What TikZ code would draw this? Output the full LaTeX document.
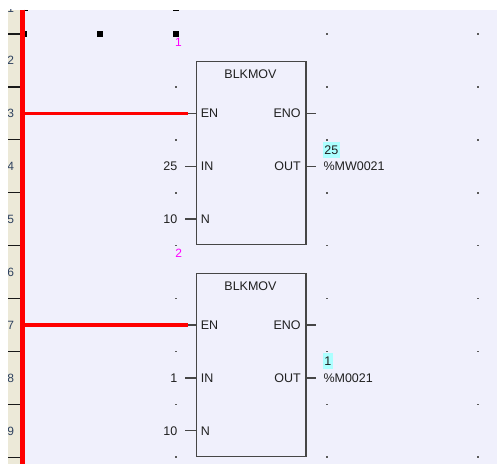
\documentclass[tikz,border=0pt]{standalone}
\usepackage{fontspec}
\setmainfont{Liberation Sans}
\definecolor{bglav}{RGB}{240,240,252}
\definecolor{beige}{RGB}{236,233,216}
\definecolor{boxgray}{RGB}{70,70,70}
\definecolor{txt}{RGB}{32,32,32}
\definecolor{rownum}{RGB}{45,65,95}
\definecolor{hl}{RGB}{172,255,255}
\definecolor{dotgray}{RGB}{90,90,90}
\definecolor{magnumc}{RGB}{255,0,255}
\tikzset{
  lbl/.style={inner sep=0pt, text=txt, font=\fontsize{12.5}{14}\selectfont, text height=8.95pt, text depth=0pt},
  blk/.style={draw=boxgray, line width=1.4pt, fill=bglav, minimum width=109.6pt, minimum height=183pt, inner sep=0pt, anchor=north west},
  stub/.style={draw=boxgray, line width=1.4pt},
  rung/.style={draw=red, line width=3.6pt},
  rail/.style={draw=red, line width=4.6pt},
  hlbox/.style={lbl, fill=hl, inner xsep=1.9pt, minimum height=15.7pt, anchor=west},
  rnum/.style={lbl, text=rownum, font=\fontsize{12}{14}\selectfont, anchor=east},
  magnum/.style={lbl, text=magnumc, font=\fontsize{12}{14}\selectfont},
  handle/.style={fill=black},
  gdot/.style={fill=dotgray}
}
\begin{document}
\begin{tikzpicture}[x=1pt,y=-1pt]
\useasboundingbox (0,0) rectangle (503,464);
\fill[white] (0,0) rectangle (503,464);
\fill[bglav] (8.3,9.5) rectangle (497,464);
\fill[beige] (8.3,9.5) rectangle (20.5,464);
% row ticks and numbers
\foreach \k in {0,...,8} {
  \draw[line width=1.3pt, black!90] (8.3,{34+52.9*\k}) -- (20.5,{34+52.9*\k});
}
\begin{scope}
\clip (8.3,9.5) rectangle (20.5,464);
\foreach \k in {1,...,9} {
  \node[rnum] (r\k) at (14.3,{7.55+52.9*(\k-1)}) {\k};
}
\end{scope}
% grid dots
\foreach \x in {176,326.7,477.7} {
  \foreach \k in {0,...,8} {
    \fill[gdot] (\x-0.8,{34+52.9*\k-0.8}) rectangle ++(1.6,1.6);
  }
}
% selection handles
\fill[handle] (21,31) rectangle (27,37);
\fill[handle] (97,31) rectangle (103,37);
\fill[handle] (173,31) rectangle (179,37);
\fill[handle] (22,9.5) rectangle (28,11);
\fill[handle] (173,9.5) rectangle (179,11);
% magenta rung numbers
\node[magnum] (m1) at (178.4,41.7) {1};
\node[magnum] (m2) at (178.8,253.3) {2};

% ===== Block 1 =====
\node[blk] (b1) at (195.7,61) {};
\node[lbl] (b1t) at (250.5,74) {BLKMOV};
\coordinate (b1en) at (195.7,113.35);
\coordinate (b1in) at (195.7,166.25);
\coordinate (b1n) at (195.7,219.15);
\coordinate (b1eno) at (305.3,113.35);
\coordinate (b1out) at (305.3,166.25);
\coordinate (b1enx) at (188.3,113.35);
\coordinate (b1inx) at (185,166.25);
\coordinate (b1nx) at (185,219.15);
\coordinate (b1enox) at (315.7,113.35);
\coordinate (b1outx) at (315.7,166.25);
\node[lbl,anchor=west] (b1enl) at (200.7,113.35) {EN};
\node[lbl,anchor=west] (b1inl) at (200.7,166.25) {IN};
\node[lbl,anchor=west] (b1nl) at (200.7,219.15) {N};
\node[lbl,anchor=east] (b1enol) at (300.9,113.35) {ENO};
\node[lbl,anchor=east] (b1outl) at (300.9,166.25) {OUT};
\node[lbl,anchor=east] (v1in) at (177.5,166.25) {25};
\node[lbl,anchor=east] (v1n) at (177.5,219.15) {10};
\node[hlbox] (h1) at (322.3,149.85) {25};
\node[lbl,anchor=west] (o1) at (323.3,166.25) {\%MW0021};
\draw[stub] (b1en) -- (b1enx);
\draw[stub] (b1in) -- (b1inx);
\draw[stub] (b1n) -- (b1nx);
\draw[stub] (b1eno) -- (b1enox);
\draw[stub] (b1out) -- (b1outx);

% ===== Block 2 =====
\node[blk] (b2) at (195.7,272.6) {};
\node[lbl] (b2t) at (250.5,285.6) {BLKMOV};
\coordinate (b2en) at (195.7,324.95);
\coordinate (b2in) at (195.7,377.85);
\coordinate (b2n) at (195.7,430.75);
\coordinate (b2eno) at (305.3,324.95);
\coordinate (b2out) at (305.3,377.85);
\coordinate (b2enx) at (188.3,324.95);
\coordinate (b2inx) at (185,377.85);
\coordinate (b2nx) at (185,430.75);
\coordinate (b2enox) at (315.7,324.95);
\coordinate (b2outx) at (315.7,377.85);
\node[lbl,anchor=west] (b2enl) at (200.7,324.95) {EN};
\node[lbl,anchor=west] (b2inl) at (200.7,377.85) {IN};
\node[lbl,anchor=west] (b2nl) at (200.7,430.75) {N};
\node[lbl,anchor=east] (b2enol) at (300.9,324.95) {ENO};
\node[lbl,anchor=east] (b2outl) at (300.9,377.85) {OUT};
\node[lbl,anchor=east] (v2in) at (177.5,377.85) {1};
\node[lbl,anchor=east] (v2n) at (177.5,430.75) {10};
\node[hlbox] (h2) at (322.3,361.0) {1};
\node[lbl,anchor=west] (o2) at (323.3,377.85) {\%M0021};
\draw[stub] (b2en) -- (b2enx);
\draw[stub] (b2in) -- (b2inx);
\draw[stub] (b2n) -- (b2nx);
\draw[stub] (b2eno) -- (b2enox);
\draw[stub] (b2out) -- (b2outx);

% ===== power rail and rungs =====
\coordinate (railtop) at (22.6,9.5);
\coordinate (railbot) at (22.6,464);
\coordinate (rail3) at (22.6,113.35);
\coordinate (rail7) at (22.6,324.95);
\draw[rail] (railtop) -- (railbot);
\draw[rung] (rail3) -- (b1enx);
\draw[rung] (rail7) -- (b2enx);
\end{tikzpicture}
\end{document}
